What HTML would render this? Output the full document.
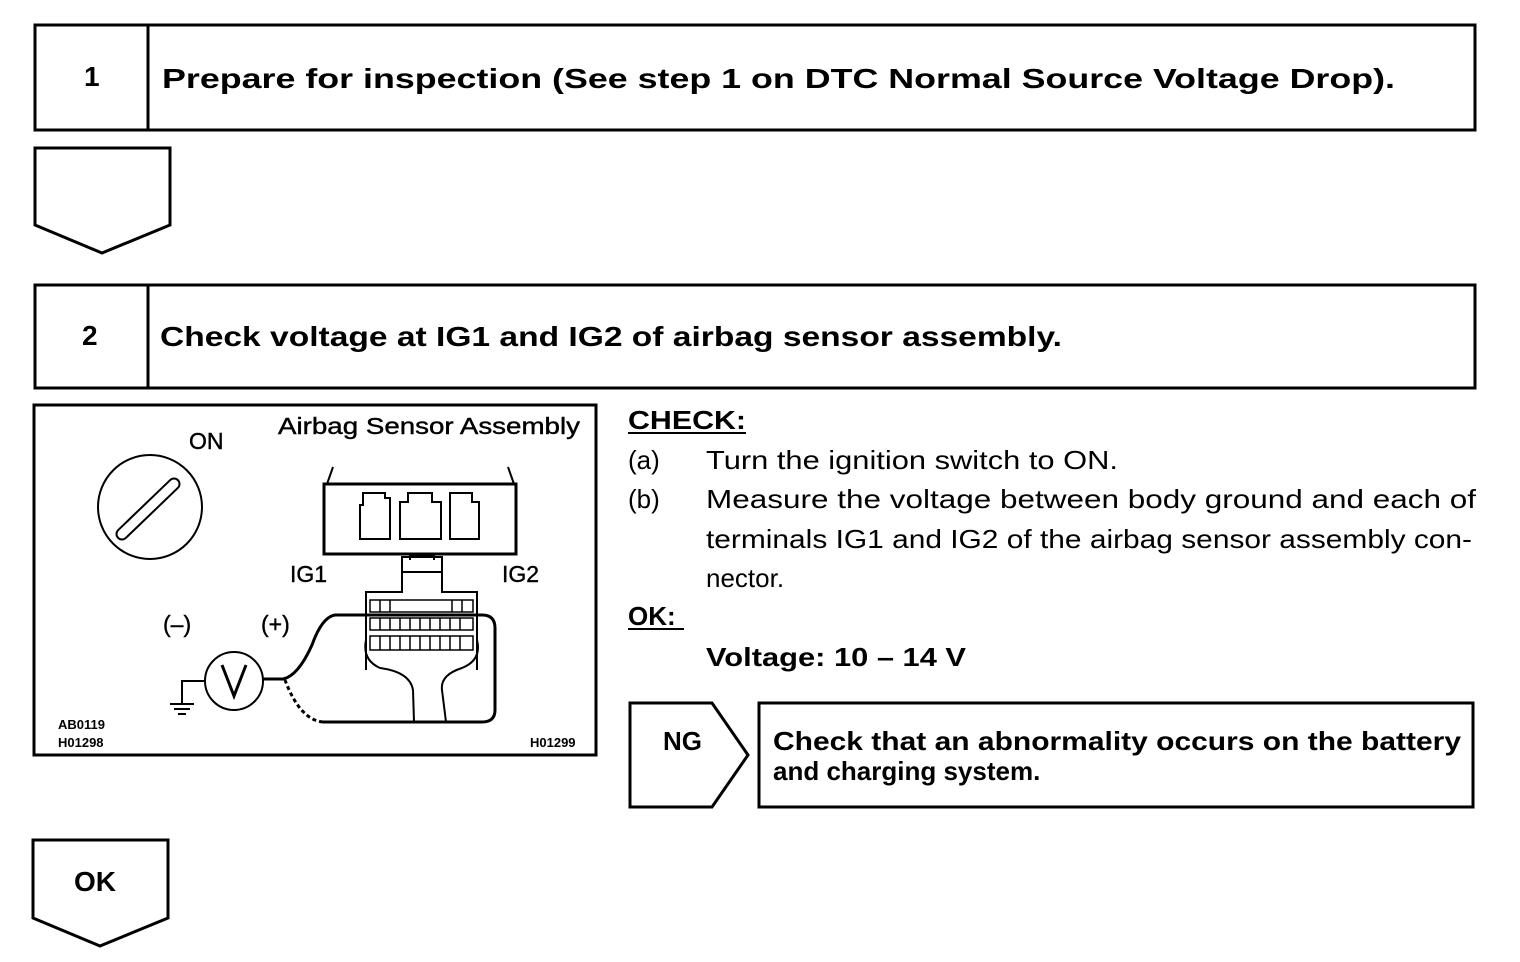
<!DOCTYPE html>
<html><head><style>body{margin:0;background:#fff}svg{display:block}text{font-family:"Liberation Sans",Arial,sans-serif;fill:#000}</style></head>
<body>
<svg width="1520" height="962" viewBox="0 0 1520 962" xmlns="http://www.w3.org/2000/svg">
<g fill="none" stroke="#000" stroke-width="3">
<rect x="35" y="25" width="1440" height="105"/>
<line x1="148" y1="25" x2="148" y2="130"/>
<polygon points="35,148 170,148 170,225 102,253 35,225"/>
<rect x="35" y="285" width="1440" height="103"/>
<line x1="148" y1="285" x2="148" y2="388"/>
<rect x="34" y="405" width="562" height="350"/>
<polygon points="630,703 712,703 748,755 712,807 630,807"/>
<rect x="759" y="703" width="714" height="104"/>
<polygon points="33,840 168,840 168,918 100,946 33,918"/>
</g>
<g font-weight="bold" font-size="28">
<text x="84" y="86">1</text>
<text x="162" y="88" textLength="1233" lengthAdjust="spacingAndGlyphs">Prepare for inspection (See step 1 on DTC Normal Source Voltage Drop).</text>
<text x="82" y="345">2</text>
<text x="160" y="346" textLength="902" lengthAdjust="spacingAndGlyphs">Check voltage at IG1 and IG2 of airbag sensor assembly.</text>
<text x="74" y="891">OK</text>
</g>
<g font-size="26">
<text x="628" y="429" font-weight="bold" textLength="118" lengthAdjust="spacingAndGlyphs">CHECK:</text>
<line x1="628" y1="433" x2="746" y2="433" stroke="#000" stroke-width="2"/>
<text x="628" y="469">(a)</text>
<text x="706" y="469" textLength="412" lengthAdjust="spacingAndGlyphs">Turn the ignition switch to ON.</text>
<text x="628" y="508">(b)</text>
<text x="706" y="508" textLength="770" lengthAdjust="spacingAndGlyphs">Measure the voltage between body ground and each of</text>
<text x="706" y="548" textLength="766" lengthAdjust="spacingAndGlyphs">terminals IG1 and IG2 of the airbag sensor assembly con-</text>
<text x="706" y="587">nector.</text>
<text x="628" y="625" font-weight="bold">OK:</text>
<line x1="628" y1="629" x2="684" y2="629" stroke="#000" stroke-width="2"/>
<text x="706" y="666" font-weight="bold" textLength="260" lengthAdjust="spacingAndGlyphs">Voltage: 10 – 14 V</text>
<text x="663" y="750" font-weight="bold">NG</text>
<text x="773" y="750" font-weight="bold" textLength="688" lengthAdjust="spacingAndGlyphs">Check that an abnormality occurs on the battery</text>
<text x="773" y="780" font-weight="bold">and charging system.</text>
</g>
<g font-size="23" stroke="#000" stroke-width="0.4">
<text x="189" y="449">ON</text>
<text x="278" y="434" textLength="302" lengthAdjust="spacingAndGlyphs">Airbag Sensor Assembly</text>
<text x="290" y="582">IG1</text>
<text x="502" y="582">IG2</text>
<text x="163" y="632">(–)</text>
<text x="261" y="632">(+)</text>
</g>
<g font-size="13" font-weight="bold">
<text x="58" y="729">AB0119</text>
<text x="58" y="747">H01298</text>
<text x="530" y="747">H01299</text>
</g>
<g fill="none" stroke="#000" stroke-width="2">
<circle cx="150" cy="507" r="52"/>
<line x1="122" y1="534" x2="174" y2="484" stroke-width="13" stroke-linecap="round"/>
<line x1="122" y1="534" x2="174" y2="484" stroke="#fff" stroke-width="9" stroke-linecap="round"/>
<rect x="324" y="484" width="192" height="70" stroke-width="3"/>
<line x1="333" y1="467" x2="327" y2="484"/>
<line x1="508" y1="467" x2="514" y2="484"/>
<path d="M360,539 V505 h3 V493 h22 v5 h5 V539 Z"/>
<path d="M400,539 V502 h8 V493 h24 v9 h9 V539 Z"/>
<path d="M450,539 V493 h22 v9 h7 V539 Z"/>
<circle cx="234" cy="681" r="29"/>
<path d="M222,665 L234,696 L246,665" stroke-width="3"/>
<path d="M205,681 H182 V703"/>
<line x1="170" y1="704" x2="194" y2="704"/><line x1="174" y1="709" x2="190" y2="709"/><line x1="178" y1="714" x2="186" y2="714"/>
<path d="M263,679 H283 Q298,676 312,645 Q322,617 335,615 H482 Q495,615 495,628 V710 Q495,722 482,722 H323" stroke-width="3"/>
<path d="M323,722 Q300,720 285,680" stroke-width="3" stroke-dasharray="4,3"/>
<path d="M366,670 V592 h36 v-20 h40 v20 h35 V670"/>
<path d="M402,572 v-15 h40 v15 M410,560 v-5 h24 v5"/>
<path d="M366,640 Q362,660 380,668 Q410,672 413,690 L414,722 M477,640 Q482,660 462,668 Q440,675 442,690 L446,722"/>
<g stroke-width="1.5">
<rect x="370" y="600" width="103" height="12"/>
<rect x="370" y="618" width="103" height="12"/>
<rect x="370" y="636" width="103" height="14"/>
<path d="M380,618 v12 M390,618 v12 M400,618 v12 M410,618 v12 M420,618 v12 M430,618 v12 M440,618 v12 M450,618 v12 M460,618 v12 M380,636 v14 M390,636 v14 M400,636 v14 M410,636 v14 M420,636 v14 M430,636 v14 M440,636 v14 M450,636 v14 M460,636 v14 M380,600 v12 M390,600 v12 M452,600 v12 M462,600 v12"/>
</g>
</g>
</svg>
</body></html>
